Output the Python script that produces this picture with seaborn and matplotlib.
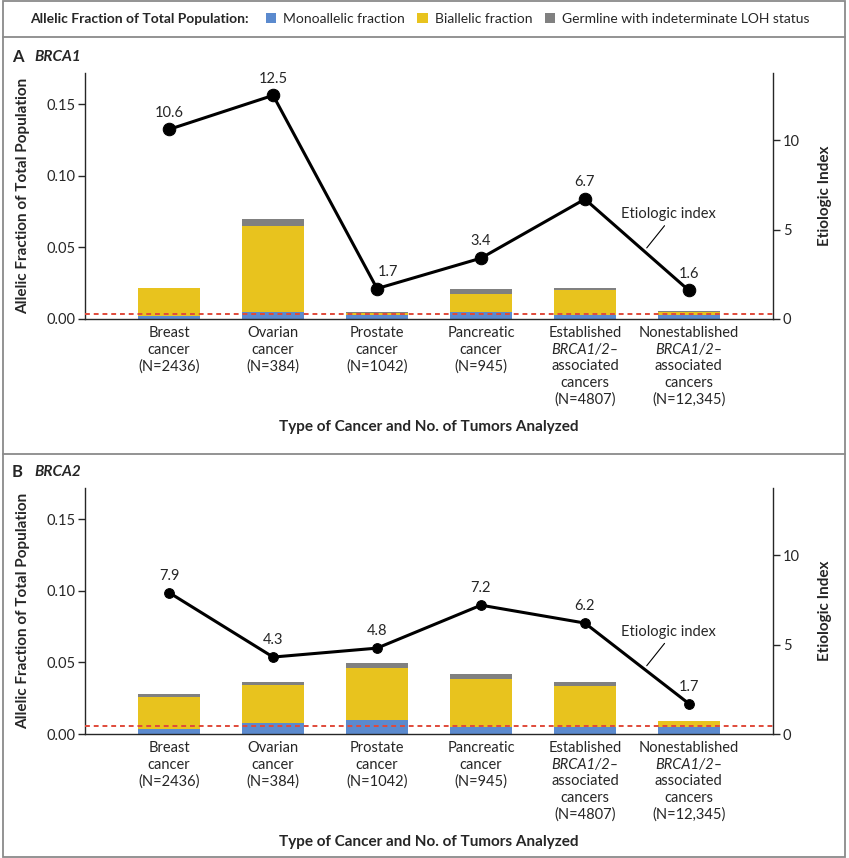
import numpy as np
import pandas as pd
import matplotlib
matplotlib.use("Agg")
import matplotlib.pyplot as plt
from matplotlib.patches import Patch, Rectangle
from matplotlib.lines import Line2D
import seaborn as sns

# ── data ──────────────────────────────────────────────────────────────────
categories = ["Breast", "Ovarian", "Prostate", "Pancreatic", "Established", "Nonestablished"]
tick_lines = [
    ["Breast", "cancer", "(N=2436)"],
    ["Ovarian", "cancer", "(N=384)"],
    ["Prostate", "cancer", "(N=1042)"],
    ["Pancreatic", "cancer", "(N=945)"],
    ["Established", "BRCA1/2–", "associated", "cancers", "(N=4807)"],
    ["Nonestablished", "BRCA1/2–", "associated", "cancers", "(N=12,345)"],
]

brca1_mono = [0.0019, 0.0049, 0.0028, 0.0049, 0.0028, 0.0028]
brca1_bi = [0.0197, 0.0598, 0.0016, 0.0128, 0.0177, 0.0019]
brca1_germ = [0.0004, 0.0053, 0.0002, 0.0032, 0.0011, 0.0009]
brca1_index = [10.6, 12.5, 1.7, 3.4, 6.7, 1.6]
brca1_ref = 0.0037

brca2_mono = [0.0035, 0.0080, 0.0096, 0.0049, 0.0049, 0.0049]
brca2_bi = [0.0223, 0.0260, 0.0367, 0.0336, 0.0285, 0.0040]
brca2_germ = [0.0024, 0.0026, 0.0033, 0.0033, 0.0028, 0.0005]
brca2_index = [7.9, 4.3, 4.8, 7.2, 6.2, 1.7]
brca2_ref = 0.0054

legend_labels = ["Monoallelic fraction", "Biallelic fraction", "Germline with indeterminate LOH status"]

BLUE = "#5b8ace"
YELLOW = "#e8c31e"
GRAY = "#808080"
RED = "#e04a3a"
FRAME = "#8a8a8a"

sns.set_style("ticks")
plt.rcParams["font.family"] = ["Lato", "DejaVu Sans"]
plt.rcParams["font.size"] = 10.5

W, H = 849, 858
fig = plt.figure(figsize=(W / 100, H / 100), dpi=100)


def fx(px):
    return px / W


def fy(py):
    return 1 - py / H


def draw_panel(top_px, mono, bi, germ, index, ref, msize, letter, gene, lab_xy,
               leader_t, label_shift):
    ax = fig.add_axes([fx(85), fy(top_px + 246), fx(688), 246 / H])
    df = pd.DataFrame({"category": categories, "mono": mono, "bi": bi, "germ": germ})
    df["mono_bi"] = df["mono"] + df["bi"]
    df["total"] = df["mono_bi"] + df["germ"]
    for col, color in [("total", GRAY), ("mono_bi", YELLOW), ("mono", BLUE)]:
        sns.barplot(data=df, x="category", y=col, order=categories, color=color,
                    width=0.6, saturation=1, errorbar=None, ax=ax, linewidth=0)
    ax.axhline(ref, color=RED, lw=1.4, ls=(0, (2.5, 2)), zorder=5)
    ax.set_xlim(-0.81, len(categories) - 1 + 0.81)
    ax.set_ylim(0, 0.172)
    ax.set_yticks([0, 0.05, 0.10, 0.15])
    ax.set_yticklabels(["0.00", "0.05", "0.10", "0.15"])
    ax.tick_params(axis="y", length=5, width=1, labelsize=10.5, pad=2)
    ax.tick_params(axis="x", length=0, labelbottom=False)
    ax.set_xlabel("")
    ax.set_ylabel("Allelic Fraction of Total Population", fontweight="bold", fontsize=11)
    ax.yaxis.set_label_coords(-0.08, 0.5)
    for s in ["top", "right"]:
        ax.spines[s].set_visible(False)
    ax.spines["left"].set_linewidth(1)
    ax.spines["bottom"].set_linewidth(1)

    # multi-line category labels
    for i, lines in enumerate(tick_lines):
        for j, line in enumerate(lines):
            italic = (j == 1 and i >= 4)
            ax.annotate(line, xy=(i, 0), xycoords=("data", "axes fraction"),
                        xytext=(0, -5 - j * 12), textcoords="offset points",
                        ha="center", va="top", fontsize=10.5,
                        style="italic" if italic else "normal")
    ax.annotate("Type of Cancer and No. of Tumors Analyzed", xy=(0.5, 0),
                xycoords="axes fraction", xytext=(0, -78), textcoords="offset points",
                ha="center", va="center", fontweight="bold", fontsize=11)

    ax2 = ax.twinx()
    xs = np.arange(len(categories))
    sns.lineplot(x=xs, y=index, ax=ax2, color="black", lw=2.2, marker="o",
                 markersize=msize, markeredgecolor="black", zorder=6)
    for i, v in enumerate(index):
        ax2.annotate(f"{v:.1f}", xy=(i, v), xytext=(label_shift.get(i, 0), 7),
                     textcoords="offset points", ha="center", va="bottom", fontsize=10.5)
    ax2.set_ylim(0, 13.75)
    ax2.set_yticks([0, 5, 10])
    ax2.tick_params(axis="y", length=5, width=1, labelsize=10.5, pad=2)
    ax2.set_ylabel("Etiologic Index", fontweight="bold", fontsize=11)
    ax2.yaxis.set_label_coords(1.065, 0.5)
    for s in ["top", "left", "bottom"]:
        ax2.spines[s].set_visible(False)
    ax2.spines["right"].set_linewidth(1)

    # "Etiologic index" callout
    i0 = 4
    lx = i0 + leader_t
    ly = index[i0] + leader_t * (index[i0 + 1] - index[i0])
    ax2.annotate("Etiologic index", xy=(lx, ly), xytext=lab_xy, textcoords="data",
                 ha="center", va="center", fontsize=10.5,
                 arrowprops=dict(arrowstyle="-", color="black", lw=0.8,
                                 relpos=(0.5, 0), shrinkA=1, shrinkB=3))

    fig.text(fx(12), fy(top_px - 16), letter, fontweight="bold", fontsize=12, va="center")
    fig.text(fx(34), fy(top_px - 16), gene, fontweight="bold", style="italic",
             fontsize=11, va="center")


draw_panel(73, brca1_mono, brca1_bi, brca1_germ, brca1_index, brca1_ref, 9,
           "A", "BRCA1", (4.8, 5.85), 0.57, {2: 8})
draw_panel(488, brca2_mono, brca2_bi, brca2_germ, brca2_index, brca2_ref, 7,
           "B", "BRCA2", (4.8, 5.7), 0.57, {})

# legend strip
fig.text(fx(30), fy(19), "Allelic Fraction of Total Population:", fontweight="bold",
         fontsize=10, va="center")
handles = [Patch(facecolor=c, edgecolor="none") for c in [BLUE, YELLOW, GRAY]]
fig.legend(handles, legend_labels, loc="center left", bbox_to_anchor=(fx(260), fy(19)),
           ncol=3, frameon=False, handlelength=0.75, handleheight=0.75,
           handletextpad=0.5, columnspacing=0.9, fontsize=10, borderaxespad=0)

# frame lines
fig.add_artist(Rectangle((fx(3), fy(857)), fx(842), 856 / H, transform=fig.transFigure,
                         fill=False, ec=FRAME, lw=1.3))
for yy in [37, 454]:
    fig.add_artist(Line2D([fx(3), fx(845)], [fy(yy), fy(yy)], transform=fig.transFigure,
                          color=FRAME, lw=1.3))

plt.savefig("out.png", dpi=100)
plt.close()
